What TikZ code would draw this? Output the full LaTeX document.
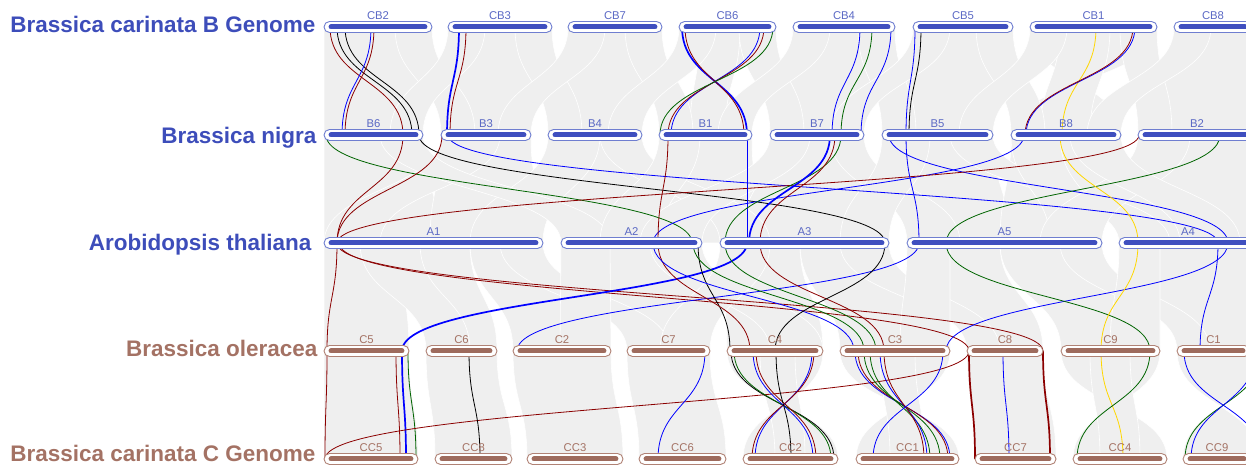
\documentclass[tikz,border=0pt]{standalone}
\usepackage{fontspec}
\setmainfont{Liberation Sans}
\usepackage{tikz}
\usetikzlibrary{calc}
\definecolor{bBlue}{HTML}{3F4FBF}
\definecolor{bEdge}{HTML}{6F7ED0}
\definecolor{bText}{HTML}{3D4DBA}
\definecolor{cBrown}{HTML}{9E6B5D}
\definecolor{cEdge}{HTML}{B08275}
\definecolor{cText}{HTML}{A47264}
\definecolor{ribGray}{HTML}{EFEFEF}
\definecolor{lRed}{HTML}{8B0000}
\definecolor{lGreen}{HTML}{006400}
\definecolor{lBlue}{HTML}{0000FF}
\definecolor{lGold}{HTML}{FFD700}
\pgfdeclarelayer{ribbon}
\pgfdeclarelayer{link}
\pgfsetlayers{ribbon,link,main}
\tikzset{
  chrB/.style={draw=bEdge, line width=0.9pt, fill=white, rounded corners=5.5pt, minimum height=11pt, inner sep=0pt},
  chrC/.style={chrB, draw=cEdge},
  barB/.style={line width=5pt, line cap=round, bBlue},
  barC/.style={barB, cBrown},
  labB/.style={anchor=base, font=\fontsize{11.3}{13}\selectfont, text=bText!85!white},
  labC/.style={labB, text=cText},
  genome/.style={anchor=base east, font=\fontsize{22.5}{27}\selectfont\bfseries},
  block/.style={fill=ribGray, draw=white, line width=0.6pt},
  syn/.style={out=-90, in=90, out distance=54pt, in distance=54pt, line width=0.8pt},
  synw/.style={syn, line width=1.7pt},
}
\newcommand{\rib}[6]{\filldraw[block] (#1,#3) .. controls (#1,{(#3+#6)/2}) and (#4,{(#3+#6)/2}) .. (#4,#6) -- (#5,#6) .. controls (#5,{(#3+#6)/2}) and (#2,{(#3+#6)/2}) .. (#2,#3) -- cycle;}

\begin{document}
\begin{tikzpicture}[x=1pt, y=1pt]
  \useasboundingbox (0,0) rectangle (1246,465);
  \def\ycb{438}
  \def\yb{330}
  \def\ya{222}
  \def\yc{114}
  \def\ycc{6}
  % chromosomes
  \foreach \n/\xa/\xb in {CB2/324/432, CB3/448/552, CB7/568/662, CB6/679/776, CB4/793/895, CB5/913/1013, CB1/1030/1157, CB8/1174/1252} {
    \node[chrB, minimum width={\xb-\xa}] (\n) at ({(\xa+\xb)/2},\ycb) {};
    \draw[barB] ([xshift=7.5pt]\n.west) -- ([xshift=-7.5pt]\n.east);
    \node[labB] at ([yshift=7pt]\n.center) {\n};
  }
  \foreach \n/\xa/\xb in {B6/324/423, B3/441/531, B4/548/642, B1/659/752, B7/770/864, B5/882/993, B8/1011/1121, B2/1138/1256} {
    \node[chrB, minimum width={\xb-\xa}] (\n) at ({(\xa+\xb)/2},\yb) {};
    \draw[barB] ([xshift=7.5pt]\n.west) -- ([xshift=-7.5pt]\n.east);
    \node[labB] at ([yshift=7pt]\n.center) {\n};
  }
  \foreach \n/\xa/\xb in {A1/324/543, A2/561/702, A3/720/889, A5/907/1102, A4/1119/1257} {
    \node[chrB, minimum width={\xb-\xa}] (\n) at ({(\xa+\xb)/2},\ya) {};
    \draw[barB] ([xshift=7.5pt]\n.west) -- ([xshift=-7.5pt]\n.east);
    \node[labB] at ([yshift=7pt]\n.center) {\n};
  }
  \foreach \n/\xa/\xb in {C5/324/409, C6/426/497, C2/513/611, C7/627/710, C4/727/823, C3/840/950, C8/967/1043, C9/1061/1160, C1/1177/1250} {
    \node[chrC, minimum width={\xb-\xa}] (\n) at ({(\xa+\xb)/2},\yc) {};
    \draw[barC] ([xshift=7.5pt]\n.west) -- ([xshift=-7.5pt]\n.east);
    \node[labC] at ([yshift=7pt]\n.center) {\n};
  }
  \foreach \n/\xa/\xb in {CC5/324/418, CC8/435/512, CC3/527/623, CC6/639/726, CC2/743/838, CC1/856/959, CC7/975/1056, CC4/1073/1167, CC9/1183/1251} {
    \node[chrC, minimum width={\xb-\xa}] (\n) at ({(\xa+\xb)/2},\ycc) {};
    \draw[barC] ([xshift=7.5pt]\n.west) -- ([xshift=-7.5pt]\n.east);
    \node[labC] at ([yshift=7pt]\n.center) {\n};
  }
  % genome names
  \node[genome, text=bText] (gCB) at (319,432.7) {Brassica carinata B Genome};
  \node[genome, text=bText] (gB) at (320,321.7) {Brassica nigra};
  \node[genome, text=bText] (gA) at (315,214) {Arobidopsis thaliana};
  \node[genome, text=cText] (gC) at (321,108.3) {Brassica oleracea};
  \node[genome, text=cText] (gCC) at (319,3.5) {Brassica carinata C Genome};
  % gray blocks
  \begin{pgfonlayer}{ribbon}
    \rib{324}{432}{\ycb}{324}{423}{\yb}
    \rib{448}{552}{\ycb}{441}{531}{\yb}
    \rib{568}{662}{\ycb}{548}{642}{\yb}
    \rib{679}{776}{\ycb}{752}{659}{\yb}
    \rib{700}{740}{\ycb}{690}{725}{\yb}
    \rib{793}{895}{\ycb}{770}{864}{\yb}
    \rib{913}{1013}{\ycb}{882}{993}{\yb}
    \rib{1030}{1157}{\ycb}{1121}{1011}{\yb}
    \rib{1060}{1110}{\ycb}{1040}{1090}{\yb}
    \rib{1174}{1260}{\ycb}{1138}{1260}{\yb}
    \rib{395}{432}{\ycb}{441}{475}{\yb}
    \rib{448}{485}{\ycb}{390}{423}{\yb}
    \rib{515}{552}{\ycb}{548}{582}{\yb}
    \rib{568}{605}{\ycb}{498}{531}{\yb}
    \rib{625}{662}{\ycb}{659}{693}{\yb}
    \rib{679}{716}{\ycb}{608}{642}{\yb}
    \rib{739}{776}{\ycb}{770}{804}{\yb}
    \rib{793}{830}{\ycb}{718}{752}{\yb}
    \rib{858}{895}{\ycb}{882}{916}{\yb}
    \rib{913}{950}{\ycb}{830}{864}{\yb}
    \rib{976}{1013}{\ycb}{1011}{1045}{\yb}
    \rib{1030}{1067}{\ycb}{959}{993}{\yb}
    \rib{1120}{1157}{\ycb}{1138}{1172}{\yb}
    \rib{1174}{1211}{\ycb}{1087}{1121}{\yb}
    %
    \rib{324}{423}{\yb}{324}{440}{\ya}
    \rib{441}{531}{\yb}{430}{543}{\ya}
    \rib{548}{642}{\yb}{561}{660}{\ya}
    \rib{659}{752}{\yb}{650}{760}{\ya}
    \rib{770}{864}{\yb}{740}{889}{\ya}
    \rib{882}{993}{\yb}{907}{1010}{\ya}
    \rib{1011}{1121}{\yb}{1000}{1102}{\ya}
    \rib{1138}{1260}{\yb}{1119}{1260}{\ya}
    \rib{441}{500}{\yb}{324}{380}{\ya}
    \rib{548}{600}{\yb}{470}{543}{\ya}
    \rib{380}{423}{\yb}{561}{610}{\ya}
    \rib{600}{642}{\yb}{720}{770}{\ya}
    \rib{659}{700}{\yb}{600}{660}{\ya}
    \rib{770}{810}{\yb}{640}{702}{\ya}
    \rib{830}{864}{\yb}{907}{960}{\ya}
    \rib{882}{930}{\yb}{840}{889}{\ya}
    \rib{950}{993}{\yb}{1119}{1170}{\ya}
    \rib{1011}{1060}{\yb}{1050}{1102}{\ya}
    \rib{1138}{1190}{\yb}{1040}{1102}{\ya}
    \rib{1070}{1121}{\yb}{1180}{1240}{\ya}
    %
    \rib{324}{400}{\ya}{324}{409}{\yc}
    \rib{400}{470}{\ya}{426}{497}{\yc}
    \rib{470}{543}{\ya}{513}{611}{\yc}
    \rib{561}{702}{\ya}{627}{710}{\yc}
    \rib{720}{800}{\ya}{727}{823}{\yc}
    \rib{800}{889}{\ya}{840}{950}{\yc}
    \rib{907}{1000}{\ya}{967}{1043}{\yc}
    \rib{1000}{1102}{\ya}{1061}{1160}{\yc}
    \rib{1119}{1260}{\ya}{1177}{1260}{\yc}
    \rib{500}{543}{\ya}{627}{670}{\yc}
    \rib{561}{610}{\ya}{560}{611}{\yc}
    \rib{650}{702}{\ya}{770}{823}{\yc}
    \rib{720}{770}{\ya}{660}{710}{\yc}
    \rib{840}{889}{\ya}{967}{1000}{\yc}
    \rib{907}{950}{\ya}{900}{950}{\yc}
    \rib{1060}{1102}{\ya}{1177}{1210}{\yc}
    \rib{1119}{1160}{\ya}{1110}{1160}{\yc}
    \rib{360}{420}{\ya}{426}{470}{\yc}
    %
    \rib{324}{409}{\yc}{324}{418}{\ycc}
    \rib{426}{497}{\yc}{435}{512}{\ycc}
    \rib{513}{611}{\yc}{527}{623}{\ycc}
    \rib{627}{710}{\yc}{639}{726}{\ycc}
    \rib{727}{823}{\yc}{838}{743}{\ycc}
    \rib{760}{795}{\yc}{775}{805}{\ycc}
    \rib{840}{950}{\yc}{959}{856}{\ycc}
    \rib{880}{915}{\yc}{890}{925}{\ycc}
    \rib{967}{1043}{\yc}{975}{1056}{\ycc}
    \rib{1061}{1160}{\yc}{1167}{1073}{\ycc}
    \rib{1090}{1130}{\yc}{1100}{1140}{\ycc}
    \rib{1177}{1260}{\yc}{1260}{1183}{\ycc}
  \end{pgfonlayer}
  % synteny links
  \begin{pgfonlayer}{link}
    \draw[syn, lRed] (330,0 |- CB2) to (403,0 |- B6);
    \draw[syn, black] (337,0 |- CB2) to (412,0 |- B6);
    \draw[syn, black] (345,0 |- CB2) to (419,0 |- B6);
    \draw[syn, lBlue] (371,0 |- CB2) to (342,0 |- B6);
    \draw[syn, lRed] (374,0 |- CB2) to (345,0 |- B6);
    \draw[synw, lBlue] (459,0 |- CB3) to (447,0 |- B3);
    \draw[syn, lRed] (466,0 |- CB3) to (450,0 |- B3);
    \draw[synw, lBlue] (682,0 |- CB6) to (747,0 |- B1);
    \draw[syn, lRed] (685,0 |- CB6) to (744,0 |- B1);
    \draw[syn, lBlue] (760,0 |- CB6) to (671,0 |- B1);
    \draw[syn, lRed] (764,0 |- CB6) to (668,0 |- B1);
    \draw[syn, lGreen] (773,0 |- CB6) to (660,0 |- B1);
    \draw[syn, lBlue] (860,0 |- CB4) to (832,0 |- B7);
    \draw[syn, lGreen] (872,0 |- CB4) to (841,0 |- B7);
    \draw[syn, lBlue] (891,0 |- CB4) to (861,0 |- B7);
    \draw[syn, lBlue] (915,0 |- CB5) to (906,0 |- B5);
    \draw[syn, black] (921,0 |- CB5) to (909,0 |- B5);
    \draw[syn, lGold] (1096,0 |- CB1) to (1062,0 |- B8);
    \draw[syn, lBlue] (1135,0 |- CB1) to (1026,0 |- B8);
    \draw[syn, lRed] (1133,0 |- CB1) to (1025,0 |- B8);
    %
    \draw[syn, lGreen] (326,0 |- B6) to (692,0 |- A2);
    \draw[syn, lRed] (403,0 |- B6) to (337,0 |- A1);
    \draw[syn, lRed] (442,0 |- B3) to (337,0 |- A1);
    \draw[syn, black] (419,0 |- B6) to (885,0 |- A3);
    \draw[syn, lBlue] (448,0 |- B3) to (1218,0 |- A4);
    \draw[syn, lBlue] (889,0 |- B5) to (1228,0 |- A4);
    \draw[syn, lBlue] (1024,0 |- B8) to (653,0 |- A2);
    \draw[syn, lRed] (1139,0 |- B2) to (337,0 |- A1);
    \draw[syn, lGreen] (1220,0 |- B2) to (946,0 |- A5);
    \draw[syn, lGold] (1060,0 |- B8) to (1138,0 |- A4);
    \draw[syn, lBlue] (906,0 |- B5) to (919,0 |- A5);
    \draw[syn, lRed] (668,0 |- B1) to (658,0 |- A2);
    \draw[syn, lBlue] (747,0 |- B1) to (747,0 |- A3);
    \draw[syn, lGreen] (841,0 |- B7) to (725,0 |- A3);
    \draw[synw, lBlue] (830,0 |- B7) to (749,0 |- A3);
    \draw[syn, lRed] (835,0 |- B7) to (760,0 |- A3);
    %
    \draw[syn, lRed] (337,0 |- A1) to (327,0 |- C5);
    \draw[syn, lRed] (339,0 |- A1) to (969,0 |- C8);
    \draw[syn, lRed] (337,0 |- A1) to (1043,0 |- C8);
    \draw[synw, lBlue] (747,0 |- A3) to (402,0 |- C5);
    \draw[syn, lBlue] (919,0 |- A5) to (517,0 |- C2);
    \draw[syn, black] (698,0 |- A2) to (730,0 |- C4);
    \draw[syn, lRed] (658,0 |- A2) to (750,0 |- C4);
    \draw[syn, lBlue] (653,0 |- A2) to (854,0 |- C3);
    \draw[syn, lGreen] (693,0 |- A2) to (864,0 |- C3);
    \draw[syn, lGreen] (725,0 |- A3) to (876,0 |- C3);
    \draw[syn, lRed] (760,0 |- A3) to (884,0 |- C3);
    \draw[syn, black] (885,0 |- A3) to (775,0 |- C4);
    \draw[syn, lBlue] (1218,0 |- A4) to (1200,0 |- C1);
    \draw[syn, lBlue] (1228,0 |- A4) to (946,0 |- C3);
    \draw[syn, lGreen] (946,0 |- A5) to (1150,0 |- C9);
    \draw[syn, lGold] (1138,0 |- A4) to (1101,0 |- C9);
    %
    \draw[syn, lRed] (327,0 |- C5) to (325,0 |- CC5);
    \draw[syn, lRed] (396,0 |- C5) to (400,0 |- CC5);
    \draw[synw, lBlue] (402,0 |- C5) to (406,0 |- CC5);
    \draw[syn, lGreen] (408,0 |- C5) to (416,0 |- CC5);
    \draw[syn, lRed] (969,0 |- C8) to (325,0 |- CC5);
    \draw[syn, black] (469,0 |- C6) to (480,0 |- CC8);
    \draw[syn, lBlue] (705,0 |- C7) to (658,0 |- CC6);
    \draw[syn, black] (731,0 |- C4) to (834,0 |- CC2);
    \draw[syn, lGreen] (734,0 |- C4) to (831,0 |- CC2);
    \draw[syn, lBlue] (753,0 |- C4) to (813,0 |- CC2);
    \draw[syn, lRed] (756,0 |- C4) to (816,0 |- CC2);
    \draw[syn, lBlue] (812,0 |- C4) to (755,0 |- CC2);
    \draw[syn, lRed] (814,0 |- C4) to (752,0 |- CC2);
    \draw[syn, black] (776,0 |- C4) to (791,0 |- CC2);
    \draw[syn, lBlue] (855,0 |- C3) to (950,0 |- CC1);
    \draw[syn, lRed] (858,0 |- C3) to (948,0 |- CC1);
    \draw[syn, lGreen] (864,0 |- C3) to (940,0 |- CC1);
    \draw[syn, lGreen] (870,0 |- C3) to (930,0 |- CC1);
    \draw[syn, lBlue] (880,0 |- C3) to (927,0 |- CC1);
    \draw[syn, lRed] (884,0 |- C3) to (924,0 |- CC1);
    \draw[syn, lBlue] (943,0 |- C3) to (873,0 |- CC1);
    \draw[synw, lRed] (969,0 |- C8) to (975,0 |- CC7);
    \draw[syn, lBlue] (1003,0 |- C8) to (1009,0 |- CC7);
    \draw[synw, lRed] (1043,0 |- C8) to (1050,0 |- CC7);
    \draw[syn, lGold] (1101,0 |- C9) to (1123,0 |- CC4);
    \draw[syn, lGreen] (1150,0 |- C9) to (1077,0 |- CC4);
    \draw[syn, lBlue] (1184,0 |- C1) to (1262,0 |- CC9);
    \draw[syn, lGreen] (1262,0 |- C1) to (1185,0 |- CC9);
    \draw[syn, lBlue] (1256,0 |- C1) to (1191,0 |- CC9);
  \end{pgfonlayer}
\end{tikzpicture}
\end{document}
